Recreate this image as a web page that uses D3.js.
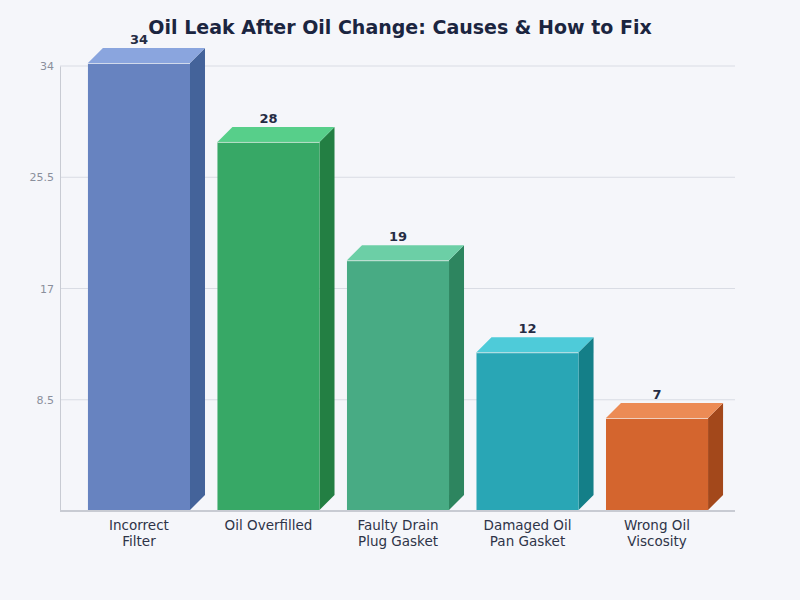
<!DOCTYPE html>
<html>
<head>
<meta charset="utf-8">
<script src="https://cdn.jsdelivr.net/npm/d3@7"></script>
<style>
	body { margin: 0; background: #f5f6fa; }
	svg { display: block; font-family: "DejaVu Sans", sans-serif; }
</style>
</head>
<body>
<div id="chart"></div>
<script>
var categories = [["Incorrect", "Filter"], ["Oil Overfilled"], ["Faulty Drain", "Plug Gasket"], ["Damaged Oil", "Pan Gasket"], ["Wrong Oil", "Viscosity"]];
var values = [34, 28, 19, 12, 7];
var yTicks = [8.5, 17, 25.5, 34];
var frontColors = ["#6783c0", "#37a866", "#48ab84", "#29a6b5", "#d4652e"];
var sideColors = ["#44639a", "#237f43", "#2d855f", "#147f88", "#a3481b"];
var topColors = ["#8aa5de", "#57cf8a", "#6ccfa6", "#4ecbd9", "#ec8b55"];

var width = 800, height = 600;
var margins = { L: 60, R: 65, T: 66, B: 89 };
var depth = 15;

var svg = d3.select('#chart').append('svg')
	.attr('width', width)
	.attr('height', height);

svg.append('rect').attr('width', width).attr('height', height).attr('fill', '#f5f6fa');

var xScale = d3.scaleBand()
	.domain(d3.range(values.length))
	.range([75, 721])
	.paddingInner(0.212)
	.paddingOuter(0.1);

//axis scale (gridlines) and bar scale (3d bars sit a little higher)
var yScale = d3.scaleLinear()
	.domain([0, 34])
	.range([height - margins.B, margins.T]);

var barScale = d3.scaleLinear()
	.domain([0, 34])
	.range([height - margins.B - 1, margins.T - 3]);

//gridlines
svg.append('g')
	.selectAll('line')
	.data(yTicks)
	.enter().append('line')
	.attr('x1', margins.L)
	.attr('x2', width - margins.R)
	.attr('y1', d => yScale(d))
	.attr('y2', d => yScale(d))
	.attr('stroke', '#d9dce4')
	.attr('stroke-width', 1);

//y axis
var yAxis = svg.append('g')
	.attr('transform', 'translate(' + margins.L + ',0)')
	.call(d3.axisLeft(yScale).tickValues(yTicks).tickSize(0).tickPadding(6).tickFormat(d3.format('')));
yAxis.select('.domain').attr('stroke', '#c8cbd3');
yAxis.selectAll('text').attr('fill', '#8a8f9c').style('font-size', '11px').style('font-family', '"DejaVu Sans", sans-serif');

//bars
var bars = svg.append('g').selectAll('g')
	.data(values)
	.enter().append('g');

bars.append('path')
	.attr('d', (d, i) => {
		var x1 = xScale(i) + xScale.bandwidth(), y0 = barScale(d), yb = barScale(0);
		return 'M' + x1 + ',' + y0 + 'L' + (x1 + depth) + ',' + (y0 - depth) +
			'L' + (x1 + depth) + ',' + (yb - depth) + 'L' + x1 + ',' + yb + 'Z';
	})
	.attr('fill', (d, i) => sideColors[i]);

bars.append('path')
	.attr('d', (d, i) => {
		var x0 = xScale(i), x1 = x0 + xScale.bandwidth(), y0 = barScale(d);
		return 'M' + x0 + ',' + y0 + 'L' + (x0 + depth) + ',' + (y0 - depth) +
			'L' + (x1 + depth) + ',' + (y0 - depth) + 'L' + x1 + ',' + y0 + 'Z';
	})
	.attr('fill', (d, i) => topColors[i]);

bars.append('rect')
	.attr('x', (d, i) => xScale(i))
	.attr('y', d => barScale(d))
	.attr('width', xScale.bandwidth())
	.attr('height', d => barScale(0) - barScale(d))
	.attr('fill', (d, i) => frontColors[i]);

bars.append('line')
	.attr('x1', (d, i) => xScale(i))
	.attr('x2', (d, i) => xScale(i) + xScale.bandwidth())
	.attr('y1', d => barScale(d) + 0.5)
	.attr('y2', d => barScale(d) + 0.5)
	.attr('stroke', '#ffffff')
	.attr('stroke-opacity', 0.7)
	.attr('stroke-width', 1);

bars.append('text')
	.attr('x', (d, i) => xScale(i) + xScale.bandwidth() / 2)
	.attr('y', d => barScale(d) - depth - 4)
	.attr('text-anchor', 'middle')
	.attr('fill', '#252c44')
	.style('font-size', '13px')
	.style('font-weight', 'bold')
	.text(d => d);

//bottom axis line
svg.append('line')
	.attr('x1', margins.L)
	.attr('x2', width - margins.R)
	.attr('y1', yScale(0))
	.attr('y2', yScale(0))
	.attr('stroke', '#c8cbd3')
	.attr('stroke-width', 2);

//category labels
var labels = svg.append('g').selectAll('text')
	.data(categories)
	.enter().append('text')
	.attr('x', (d, i) => xScale(i) + xScale.bandwidth() / 2)
	.attr('y', yScale(0) + 19)
	.attr('text-anchor', 'middle')
	.attr('fill', '#2e3448')
	.style('font-size', '13.5px');

labels.selectAll('tspan')
	.data(d => d)
	.enter().append('tspan')
	.attr('x', function() { return d3.select(this.parentNode).attr('x'); })
	.attr('dy', (d, i) => i === 0 ? 0 : 16)
	.text(d => d);

//title
svg.append('text')
	.attr('x', width / 2)
	.attr('y', 34)
	.attr('text-anchor', 'middle')
	.attr('fill', '#1b2540')
	.style('font-size', '19px')
	.style('font-weight', 'bold')
	.text('Oil Leak After Oil Change: Causes & How to Fix');
</script>
</body>
</html>
